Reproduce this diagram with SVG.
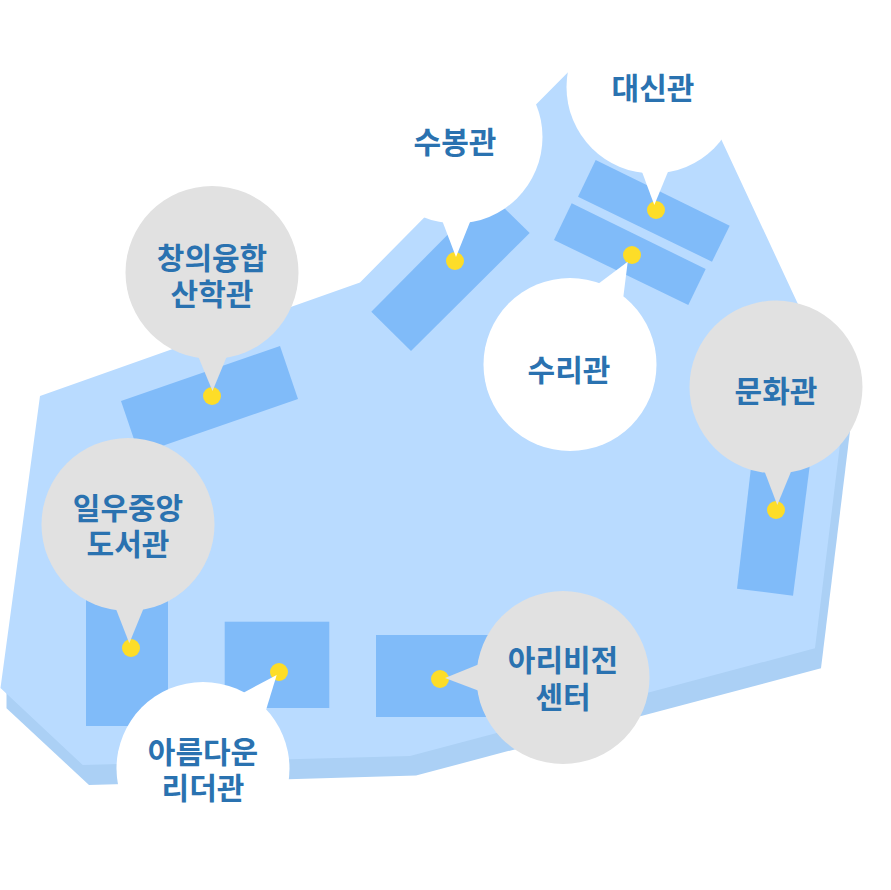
<svg xmlns="http://www.w3.org/2000/svg" width="891" height="890" viewBox="0 0 891 890">
<style>
.b{fill:#80bbf9}
.w{fill:#fff}
.g{fill:#e1e1e1}
.d{fill:#fddd28}
text{font-family:"Noto Sans CJK KR","Noto Sans",sans-serif;font-size:30px;font-weight:700;fill:#2a72b0;text-anchor:middle}
</style>
<g id="campus">
<polygon fill="#abd0f5" points="6.500,690 6.500,708.300 89,785 416,775.500 821,668.300 855,390 800,380 300,500"/>
<polygon fill="#b9dbff" points="0.500,688 40,396 360,282.500 536,104.500 600,40 675,40 797,302 830,370 847,387 815,648.300 410,756 82.700,765"/>
</g>
<g id="buildings">
<polygon class="b" points="595.700,160 729.700,225.700 712,261.700 578,196.700"/>
<polygon class="b" points="571.700,203.300 705.700,269 688.300,305 554,240"/>
<polygon class="b" points="489,193 529.700,233 411,351 371.300,311.700"/>
<polygon class="b" points="753,450 811,456 793,595.700 737,588.700"/>
<polygon class="b" points="121,401 280,346 298,399 139,454"/>
<rect class="b" x="86" y="590" width="82" height="136"/>
<rect class="b" x="224.700" y="621.700" width="104.600" height="86.300"/>
<rect class="b" x="376" y="635" width="120" height="82"/>
</g>
<g id="markers">
<circle class="d" cx="455" cy="261" r="9"/>
<circle class="d" cx="656" cy="210" r="9"/>
<circle class="d" cx="632" cy="255" r="9"/>
<circle class="d" cx="776" cy="510" r="9"/>
<circle class="d" cx="212" cy="396" r="9"/>
<circle class="d" cx="131" cy="648" r="9"/>
<circle class="d" cx="279" cy="672" r="9"/>
<circle class="d" cx="440" cy="679" r="9"/>
</g>
<g id="sububong">
<circle class="w" cx="456" cy="137" r="86.500"/>
<polygon class="w" points="442.700,222 470,222 456,257"/>
<text x="455" y="153">수봉관</text>
</g>
<g id="daesin">
<circle class="w" cx="653" cy="87" r="86.500"/>
<polygon class="w" points="641.700,171 668.300,171 654.300,205"/>
<text x="653" y="99">대신관</text>
</g>
<g id="suri">
<circle class="w" cx="570" cy="364.500" r="86.500"/>
<polygon class="w" points="598,284 623.300,297 627.700,261.700"/>
<text x="569" y="381">수리관</text>
</g>
<g id="munhwa">
<circle class="g" cx="776" cy="387" r="86.500"/>
<polygon class="g" points="764,470 791.700,470 777.300,505"/>
<text x="776" y="402">문화관</text>
</g>
<g id="changui">
<circle class="g" cx="212" cy="272.500" r="86.500"/>
<polygon class="g" points="198,356 227,356 212.500,391"/>
<text><tspan x="212" y="269">창의융합</tspan><tspan x="212" y="305">산학관</tspan></text>
</g>
<g id="library">
<circle class="g" cx="128" cy="524.500" r="86.500"/>
<polygon class="g" points="116,609 143.300,609 129.300,643.300"/>
<text><tspan x="128" y="519">일우중앙</tspan><tspan x="128" y="555">도서관</tspan></text>
</g>
<g id="areumdaun">
<circle class="w" cx="203" cy="768.500" r="86.500"/>
<polygon class="w" points="243,693 266,710 276.700,675"/>
<text><tspan x="203" y="763">아름다운</tspan><tspan x="203" y="799">리더관</tspan></text>
</g>
<g id="aribi">
<circle class="g" cx="563" cy="677.500" r="86.500"/>
<polygon class="g" points="482,663 482,692 445,678"/>
<text><tspan x="563" y="671">아리비전</tspan><tspan x="563" y="708">센터</tspan></text>
</g>
</svg>
